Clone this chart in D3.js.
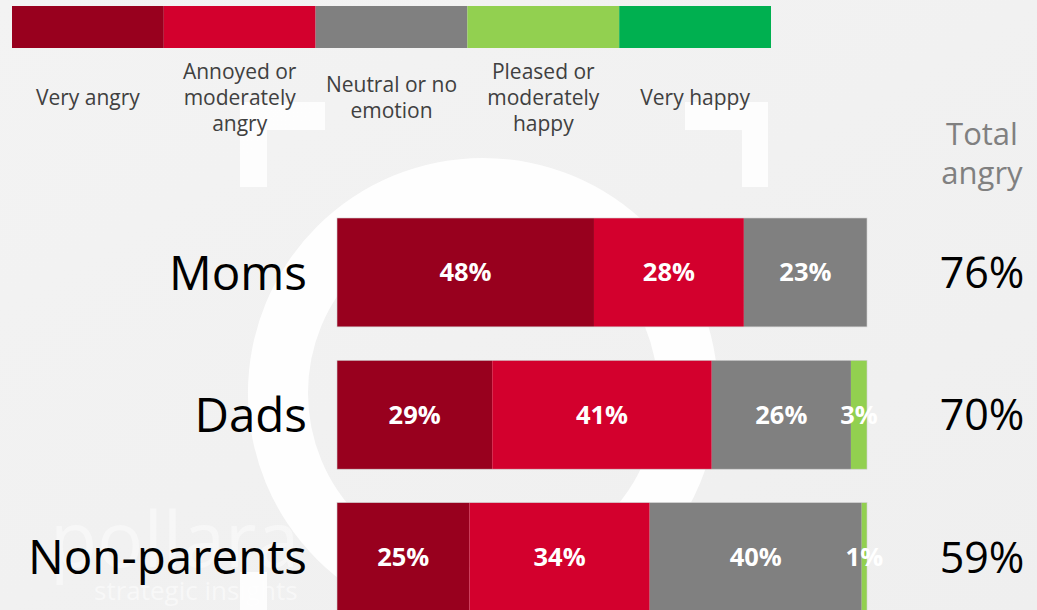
<!DOCTYPE html>
<html>
<head>
<meta charset="utf-8">
<script src="https://cdn.jsdelivr.net/npm/d3@7"></script>
<style>
  body { margin: 0; background: #f1f1f1; }
  svg { display: block; font-family: "Open Sans", "Noto Sans", sans-serif; }
</style>
</head>
<body>
<div id="chart"></div>
<script>
// legend categories (one line per array entry)
var categories = ["Very angry", "Annoyed or moderately angry", "Neutral or no emotion", "Pleased or moderately happy", "Very happy"];
var categoryLines = [["Very angry"], ["Annoyed or", "moderately", "angry"], ["Neutral or no", "emotion"], ["Pleased or", "moderately", "happy"], ["Very happy"]];
var colors = ["#98001e", "#d3002d", "#808080", "#92d050", "#00b050"];

var groups = ["Moms", "Dads", "Non-parents"];
var veryAngry = [48, 29, 25];
var annoyed = [28, 41, 34];
var neutral = [23, 26, 40];
var pleased = [0, 3, 1];
var veryHappy = [0, 0, 0];
var totalAngry = [76, 70, 59];

var series = [veryAngry, annoyed, neutral, pleased, veryHappy];

var width = 1037, height = 610;

var svg = d3.select("#chart").append("svg")
    .attr("width", width)
    .attr("height", height);

// background + faint watermark
var defs = svg.append("defs");
var grad = defs.append("linearGradient").attr("id", "bg").attr("x1", 0).attr("x2", 1).attr("y1", 0).attr("y2", 1);
grad.append("stop").attr("offset", 0).attr("stop-color", "#f3f3f3");
grad.append("stop").attr("offset", 1).attr("stop-color", "#efefef");
svg.append("rect").attr("width", width).attr("height", height).attr("fill", "url(#bg)");

var wm = svg.append("g").attr("class", "watermark").attr("fill", "#ffffff");
var arc = d3.arc().innerRadius(175).outerRadius(235).startAngle(0).endAngle(2 * Math.PI);
wm.append("path").attr("transform", "translate(483,393)").attr("d", arc()).attr("opacity", 0.9);
// viewfinder corners
wm.append("path").attr("d", "M240,102H325V130H267V187H240Z").attr("opacity", 0.85);
wm.append("path").attr("d", "M685,102H768V187H742V130H685Z").attr("opacity", 0.85);
wm.append("rect").attr("x", 240).attr("y", 572).attr("width", 27).attr("height", 40).attr("opacity", 0.85);
wm.append("text").attr("x", 50).attr("y", 567).attr("font-size", 77).attr("opacity", 0.45).text("pollara");
wm.append("text").attr("x", 94).attr("y", 600).attr("font-size", 26).attr("opacity", 0.5).text("strategic insights");

// legend
var lx = d3.scaleBand().domain(categories).range([12, 771]);

var legend = svg.append("g").attr("class", "legend");
legend.selectAll("rect")
    .data(categories)
    .enter().append("rect")
    .attr("x", function(d) { return lx(d); })
    .attr("y", 6)
    .attr("width", lx.bandwidth())
    .attr("height", 42)
    .attr("fill", function(d, i) { return colors[i]; });

legend.selectAll("text")
    .data(categories)
    .enter().append("text")
    .attr("x", function(d) { return lx(d) + lx.bandwidth() / 2; })
    .attr("text-anchor", "middle")
    .attr("font-size", 21)
    .attr("fill", "#404040")
    .each(function(d, i) {
        var lines = categoryLines[i];
        var start = 105 - (lines.length - 1) * 13;
        d3.select(this).selectAll("tspan")
            .data(lines)
            .enter().append("tspan")
            .attr("x", lx(d) + lx.bandwidth() / 2)
            .attr("y", function(l, j) { return start + j * 26; })
            .text(function(l) { return l; });
    });

// header for totals
svg.append("text")
    .attr("x", 982).attr("text-anchor", "middle")
    .attr("font-size", 31).attr("fill", "#808080")
    .selectAll("tspan")
    .data(["Total", "angry"])
    .enter().append("tspan")
    .attr("x", 982)
    .attr("y", function(d, i) { return 145 + i * 39; })
    .text(function(d) { return d; });

// bars
var y = d3.scaleBand().domain(groups).range([218, 611.5]).paddingInner(0.235).paddingOuter(0);

var rows = svg.append("g").attr("class", "rows")
    .selectAll("g")
    .data(groups)
    .enter().append("g");

rows.each(function(g, gi) {
    var row = d3.select(this);
    var values = series.map(function(s) { return s[gi]; });
    var sum = d3.sum(values);
    var x = d3.scaleLinear().domain([0, sum]).range([337, 867]);
    var segs = [];
    var acc = 0;
    values.forEach(function(v, i) {
        segs.push({ v: v, x0: acc, x1: acc + v, color: colors[i] });
        acc += v;
    });
    segs = segs.filter(function(s) { return s.v > 0; });

    row.selectAll("rect")
        .data(segs)
        .enter().append("rect")
        .attr("x", function(d) { return x(d.x0); })
        .attr("y", y(g))
        .attr("width", function(d) { return x(d.x1) - x(d.x0); })
        .attr("height", y.bandwidth())
        .attr("fill", function(d) { return d.color; });

    row.append("rect")
        .attr("x", x(0)).attr("y", y(g))
        .attr("width", x(sum) - x(0)).attr("height", y.bandwidth())
        .attr("fill", "none").attr("stroke", "#d0d0d0").attr("stroke-width", 0.6);

    row.selectAll("text.val")
        .data(segs)
        .enter().append("text")
        .attr("class", "val")
        .attr("x", function(d) { return (x(d.x0) + x(d.x1)) / 2; })
        .attr("y", y(g) + y.bandwidth() / 2)
        .attr("dy", "0.35em")
        .attr("text-anchor", "middle")
        .attr("font-size", 25.5)
        .attr("font-weight", "bold")
        .attr("fill", "#ffffff")
        .text(function(d) { return d.v + "%"; });

    row.append("text")
        .attr("x", 307)
        .attr("y", y(g) + y.bandwidth() / 2)
        .attr("dy", "0.36em")
        .attr("text-anchor", "end")
        .attr("font-size", 47.5)
        .attr("fill", "#000000")
        .text(g);

    row.append("text")
        .attr("x", 982)
        .attr("y", y(g) + y.bandwidth() / 2)
        .attr("dy", "0.36em")
        .attr("text-anchor", "middle")
        .attr("font-size", 43)
        .attr("fill", "#000000")
        .text(totalAngry[gi] + "%");
});
</script>
</body>
</html>
